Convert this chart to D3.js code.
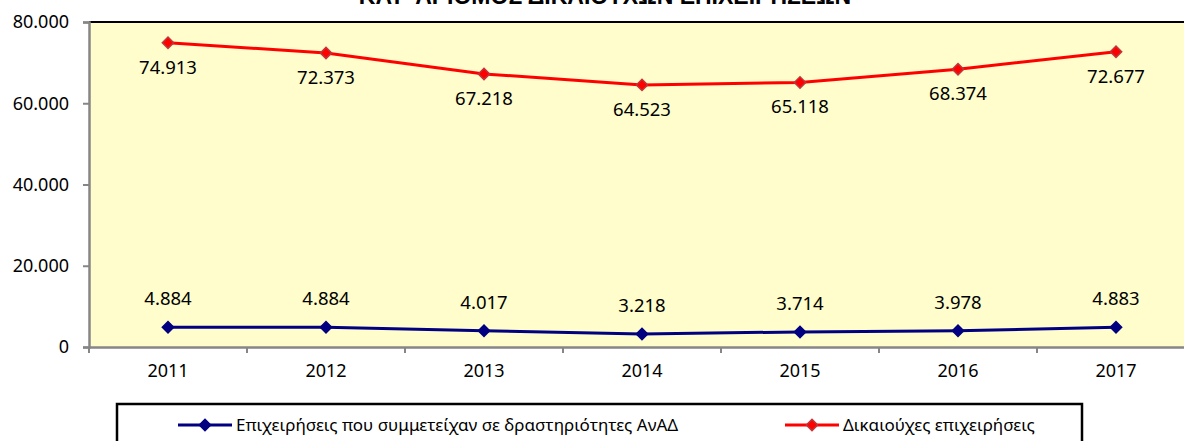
<!DOCTYPE html>
<html>
<head>
<meta charset="utf-8">
<script src="https://cdn.jsdelivr.net/npm/d3@7"></script>
<style>
  body { margin: 0; background: #fff; }
  svg { display: block; font-family: "Noto Sans", "Open Sans", sans-serif; }
</style>
</head>
<body>
<svg width="1184" height="441"></svg>
<script>
var years = ['2011', '2012', '2013', '2014', '2015', '2016', '2017'];
var rdFirms = [4884, 4884, 4017, 3218, 3714, 3978, 4883];
var beneficiaries = [74913, 72373, 67218, 64523, 65118, 68374, 72677];
var yTicks = [0, 20000, 40000, 60000, 80000];
var seriesNames = ['Επιχειρήσεις που συμμετείχαν σε δραστηριότητες ΑνΑΔ', 'Δικαιούχες επιχειρήσεις'];
var title = 'ΚΑΤ\' ΑΡΙΘΜΟΣ ΔΙΚΑΙΟΥΧΩΝ ΕΠΙΧΕΙΡΗΣΕΩΝ';

var svg = d3.select('svg');
var plotLeft = 89, plotTop = 22, plotBottom = 347, plotRight = 1195;
var fmt = function (v) { return d3.format(',')(v).replace(/,/g, '.'); };

var x = d3.scaleBand().domain(years).range([plotLeft, plotRight]);
var y = d3.scaleLinear().domain([0, 80000]).range([plotBottom, plotTop]);

// title (cut off at top, as in the source)
svg.append('text')
    .attr('x', 605).attr('y', 4)
    .attr('text-anchor', 'middle')
    .attr('font-family', 'Liberation Sans, Arial, sans-serif')
    .attr('font-weight', 'bold')
    .attr('font-size', 23)
    .text(title);

// plot area
svg.append('rect')
    .attr('x', plotLeft).attr('y', plotTop)
    .attr('width', plotRight - plotLeft).attr('height', plotBottom - plotTop)
    .attr('fill', '#fefdcb');
svg.append('line')
    .attr('x1', plotLeft).attr('x2', plotRight)
    .attr('y1', plotTop).attr('y2', plotTop)
    .attr('stroke', '#000').attr('stroke-width', 2);

// y axis
var yAxis = svg.append('g')
    .attr('transform', 'translate(' + plotLeft + ',0)')
    .call(d3.axisLeft(y).tickValues(yTicks).tickSize(6).tickPadding(14).tickFormat(fmt));
yAxis.select('.domain').attr('stroke', '#868686').attr('stroke-width', 2.5);
yAxis.selectAll('.tick line').attr('stroke', '#868686').attr('stroke-width', 2);
yAxis.selectAll('.tick text').attr('font-size', 18).attr('fill', '#000')
    .attr('font-family', 'Noto Sans, sans-serif');

// x axis
var xAxis = svg.append('g')
    .attr('transform', 'translate(0,' + plotBottom + ')')
    .call(d3.axisBottom(x).tickSize(0).tickPadding(17));
xAxis.select('.domain').attr('stroke', '#868686').attr('stroke-width', 2.5);
xAxis.selectAll('.tick text').attr('font-size', 18).attr('fill', '#000')
    .attr('font-family', 'Noto Sans, sans-serif');
// tick marks at band boundaries
svg.append('g').selectAll('line.bt')
    .data(years.concat(['end']))
    .enter().append('line')
    .attr('class', 'bt')
    .attr('x1', function (d, i) { return plotLeft + i * x.bandwidth(); })
    .attr('x2', function (d, i) { return plotLeft + i * x.bandwidth(); })
    .attr('y1', plotBottom).attr('y2', plotBottom + 6)
    .attr('stroke', '#868686').attr('stroke-width', 2);

var diamond = d3.symbol().type(d3.symbolSquare).size(64);
var cx = function (d, i) { return x(years[i]) + x.bandwidth() / 2; };

function drawSeries(values, color, markerStroke, labelDy) {
    var g = svg.append('g');
    g.append('path')
        .datum(values)
        .attr('fill', 'none')
        .attr('stroke', color)
        .attr('stroke-width', 3)
        .attr('d', d3.line().x(cx).y(function (d) { return y(d); }));
    g.selectAll('path.m')
        .data(values)
        .enter().append('path')
        .attr('class', 'm')
        .attr('d', diamond)
        .attr('transform', function (d, i) { return 'translate(' + cx(d, i) + ',' + y(d) + ') rotate(45)'; })
        .attr('fill', color)
        .attr('stroke', markerStroke)
        .attr('stroke-width', 1.5);
    g.selectAll('text')
        .data(values)
        .enter().append('text')
        .attr('x', cx)
        .attr('y', function (d) { return y(d) + labelDy; })
        .attr('text-anchor', 'middle')
        .attr('font-size', 18.5)
        .attr('fill', '#000')
        .text(fmt);
}

drawSeries(rdFirms, '#000080', '#000080', -22);
drawSeries(beneficiaries, '#ff0000', '#c0343a', 31);

// legend
svg.append('rect')
    .attr('x', 117).attr('y', 404)
    .attr('width', 965).attr('height', 60)
    .attr('fill', '#fff')
    .attr('stroke', '#000').attr('stroke-width', 2.5);

var legendItems = [
    { name: seriesNames[0], color: '#000080', stroke: '#000080', x: 178 },
    { name: seriesNames[1], color: '#ff0000', stroke: '#c0343a', x: 785 }
];
var lg = svg.append('g').selectAll('g')
    .data(legendItems)
    .enter().append('g')
    .attr('transform', function (d) { return 'translate(' + d.x + ',425)'; });
lg.append('line')
    .attr('x1', 0).attr('x2', 54)
    .attr('stroke', function (d) { return d.color; })
    .attr('stroke-width', 3);
lg.append('path')
    .attr('d', diamond)
    .attr('transform', 'translate(27,0) rotate(45)')
    .attr('fill', function (d) { return d.color; })
    .attr('stroke', function (d) { return d.stroke; })
    .attr('stroke-width', 1.5);
lg.append('text')
    .attr('x', 58).attr('y', 6)
    .attr('font-size', 17)
    .attr('fill', '#000')
    .text(function (d) { return d.name; });
</script>
</body>
</html>
